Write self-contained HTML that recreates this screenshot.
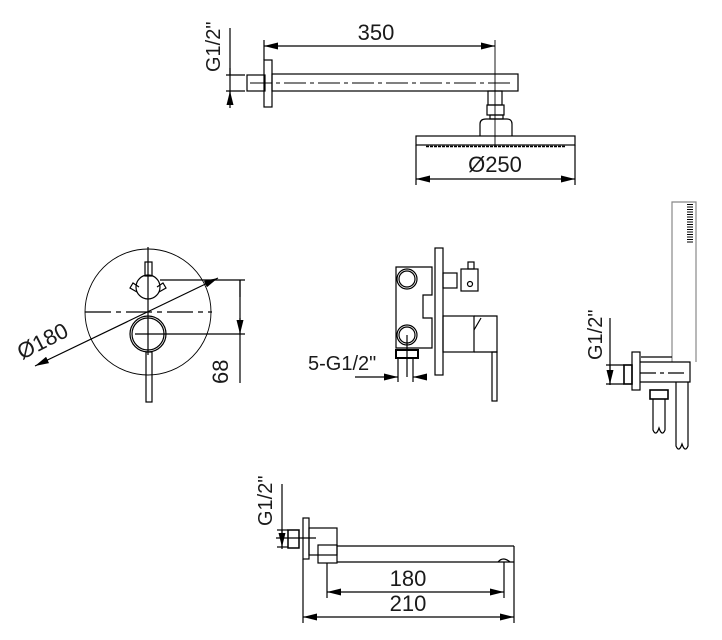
<!DOCTYPE html>
<html><head><meta charset="utf-8"><style>
html,body{margin:0;padding:0;background:#fff}
svg{display:block}
text{font-family:"Liberation Sans",sans-serif;fill:#1a1a1a}
</style></head><body>
<svg width="722" height="640" viewBox="0 0 722 640" xmlns="http://www.w3.org/2000/svg">
<defs>
<marker id="a" viewBox="0 0 14 7" refX="14" refY="3.5" markerWidth="14" markerHeight="7" orient="auto-start-reverse" markerUnits="userSpaceOnUse"><path d="M0,0 L14,3.5 L0,7z" fill="#000"/></marker>
</defs>
<g fill="none" stroke="#000" stroke-width="1.2">
<line x1="230" y1="28" x2="230" y2="108"/>
<line x1="226" y1="75" x2="245" y2="75"/><line x1="226" y1="91" x2="245" y2="91"/>
<path d="M230,68 L230,75 M230,98 L230,91" marker-end="url(#a)"/>
<rect x="247" y="75" width="18" height="16"/>
<rect x="264" y="60" width="8" height="47"/>
<rect x="272" y="74" width="246" height="17"/>
<line x1="250" y1="83" x2="510" y2="83" stroke-dasharray="22,4,4,4" stroke-width="0.9"/>
<line x1="264" y1="40" x2="264" y2="60"/>
<line x1="495" y1="40" x2="495" y2="146" stroke-width="0.9"/>
<line x1="264" y1="46" x2="495" y2="46" marker-start="url(#a)" marker-end="url(#a)"/>
<rect x="488" y="91" width="14" height="14"/>
<rect x="487" y="105" width="17" height="10"/>
<rect x="490" y="115" width="13" height="4"/>
<path d="M480,136 L480,124 Q480,119 486,119 L507,119 Q512,119 512,124 L512,136"/>
<rect x="416" y="136" width="159" height="9"/>
<line x1="426" y1="146.5" x2="566" y2="146.5" stroke-dasharray="3,1" stroke-width="1.5"/>
<line x1="416" y1="145" x2="416" y2="185"/><line x1="575" y1="145" x2="575" y2="185"/>
<line x1="416" y1="179" x2="575" y2="179" marker-start="url(#a)" marker-end="url(#a)"/>

<circle cx="148" cy="312" r="63" stroke-width="0.9"/>
<line x1="85" y1="312" x2="212" y2="312" stroke-dasharray="26,5,5,5"/>
<line x1="148" y1="247" x2="148" y2="355"/>
<rect x="145" y="262" width="7" height="14"/>
<circle cx="148" cy="287" r="12"/>
<path d="M137,292 L130,288 L133,283 L139,287 M159,292 L166,288 L163,283 L157,287"/>
<line x1="160" y1="280" x2="245" y2="280"/>
<circle cx="148" cy="334" r="18"/><circle cx="148" cy="334" r="16"/>
<line x1="135" y1="334" x2="245" y2="334"/>
<rect x="146" y="352" width="6" height="50"/>
<line x1="35" y1="366" x2="218" y2="278" marker-start="url(#a)" marker-end="url(#a)"/>
<line x1="240" y1="280" x2="240" y2="383"/>
<path d="M240,297 L240,280 M240,318 L240,334" marker-end="url(#a)"/>

<path d="M396,267 L432,267 L432,295 L423,295 L423,318 L432,318 L432,348 L396,348 Z"/>
<circle cx="407" cy="279" r="10"/><circle cx="407" cy="279" r="8"/>
<circle cx="407" cy="335" r="10"/><circle cx="407" cy="335" r="8"/>
<line x1="407" y1="335" x2="407" y2="377"/>
<rect x="396" y="350" width="22" height="8" stroke-width="2"/>
<rect x="435" y="248" width="8" height="127"/>
<rect x="443" y="273" width="14" height="15"/>
<rect x="461" y="269" width="17" height="22"/>
<rect x="468" y="262" width="6" height="7"/>
<circle cx="470" cy="284" r="2.5"/>
<rect x="443" y="316" width="31" height="36"/>
<path d="M474,316 L497,316 L497,352 L474,352 M474,330 L481,318"/>
<rect x="492" y="352" width="5" height="49"/>
<line x1="398" y1="358" x2="398" y2="382"/><line x1="413" y1="358" x2="413" y2="382"/>
<line x1="355" y1="377" x2="398" y2="377" marker-end="url(#a)"/>
<line x1="425" y1="377" x2="413" y2="377" marker-end="url(#a)"/>

<path d="M672,362 L672,202 L696,202 L696,362" stroke="#888"/>
<line x1="690" y1="204" x2="690" y2="244" stroke-dasharray="1,1.5" stroke-width="6"/>
<line x1="610" y1="318" x2="610" y2="385"/>
<line x1="606" y1="365" x2="624" y2="365"/><line x1="606" y1="384" x2="624" y2="384"/>
<path d="M610,376 L610,365 M610,373 L610,384" marker-end="url(#a)"/>
<rect x="624" y="365" width="8" height="19" stroke-width="1.6"/>
<rect x="632" y="352" width="8" height="38"/>
<path d="M640,362 L690,362 L690,382 L640,382"/>
<line x1="641" y1="357" x2="672" y2="357"/>
<line x1="640" y1="373" x2="688" y2="373" stroke-dasharray="16,4,4,4"/>
<rect x="650" y="390" width="18" height="9" stroke-width="1.6"/>
<path d="M653,399 L653,430 Q656,437 659,428 Q662,437 665,430 L665,399"/>
<path d="M676,382 L676,446 Q679,453 682,444 Q685,453 688,446 L688,382"/>

<line x1="282" y1="484" x2="282" y2="549"/>
<line x1="277" y1="530" x2="288" y2="530"/><line x1="277" y1="547" x2="288" y2="547"/>
<path d="M282,541 L282,530 M282,537 L282,547" marker-end="url(#a)" />
<rect x="288" y="530" width="11" height="18" stroke-width="1.5"/>
<line x1="276" y1="538" x2="316" y2="538"/>
<rect x="303" y="518" width="6" height="41"/>
<rect x="309" y="528" width="28" height="27"/>
<rect x="318" y="545" width="19" height="18"/>
<path d="M337,546 L514,546 M337,562 L514,562"/>
<path d="M498,562 Q503,556 510,562"/>
<line x1="303" y1="559" x2="303" y2="623"/><line x1="514" y1="546" x2="514" y2="623"/>
<line x1="327" y1="563" x2="327" y2="598"/><line x1="504" y1="562" x2="504" y2="598"/>
<line x1="327" y1="592" x2="504" y2="592" marker-start="url(#a)" marker-end="url(#a)"/>
<line x1="303" y1="617" x2="514" y2="617" marker-start="url(#a)" marker-end="url(#a)"/>
</g>
<g font-size="22">
<text x="376" y="40" text-anchor="middle">350</text>
<text x="495" y="172" text-anchor="middle">Ø250</text>
<text x="408" y="586" text-anchor="middle">180</text>
<text x="408" y="611" text-anchor="middle">210</text>
<text x="308" y="370" font-size="20">5-G1/2"</text>
<text transform="translate(228,384) rotate(-90)">68</text>
<text transform="translate(22,360) rotate(-27)">Ø180</text>
<text transform="translate(220,72) rotate(-90)" font-size="20">G1/2"</text>
<text transform="translate(602,360) rotate(-90)" font-size="20">G1/2"</text>
<text transform="translate(272,526) rotate(-90)" font-size="20">G1/2"</text>
</g>
</svg>
</body></html>
